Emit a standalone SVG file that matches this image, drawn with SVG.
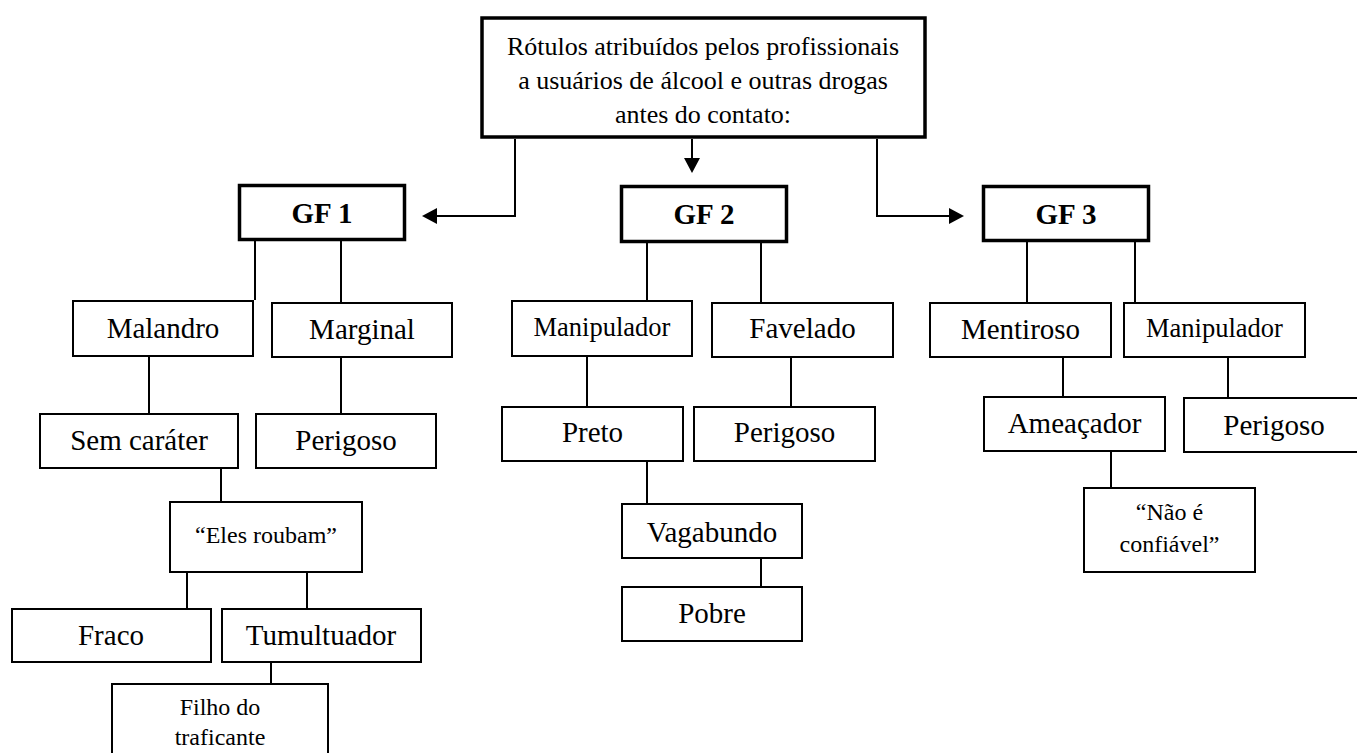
<svg xmlns="http://www.w3.org/2000/svg" width="1357" height="753" viewBox="0 0 1357 753">
<style>
  .bg { fill: #ffffff; }
  .box { fill: #ffffff; stroke: #000; stroke-width: 2; }
  .bold { fill: #ffffff; stroke: #000; stroke-width: 3.5; }
  .t { font-family: "Liberation Serif", "Times New Roman", serif; font-size: 29px; fill: #000; text-anchor: middle; }
  .ts { font-size: 26.5px; }
  .tq { font-size: 24px; }
  .tt { font-size: 26px; }
  .tb { font-weight: bold; }
  .c { fill: none; stroke: #000; stroke-width: 2; }
</style>
<defs>
  <marker id="ah" viewBox="0 0 15 16" refX="12" refY="8" markerWidth="15" markerHeight="16" orient="auto" markerUnits="userSpaceOnUse">
    <path d="M0,0 L15,8 L0,16 z" fill="#000"/>
  </marker>
</defs>
<rect class="bg" x="0" y="0" width="1357" height="753"/>

<g id="connectors">
  <path class="c" d="M515,139 V216 H425" marker-end="url(#ah)"/>
  <path class="c" d="M692,139 V170" marker-end="url(#ah)"/>
  <path class="c" d="M877,139 V216 H961" marker-end="url(#ah)"/>
  <path class="c" d="M255,241 V300 M341,241 V302 M149,357 V413 M341,358 V413 M221,469 V501 M187,573 V608 M307,573 V608 M271,663 V683"/>
  <path class="c" d="M647,243 V300 M761,243 V302 M587,357 V406 M791,358 V406 M647,462 V503 M761,559 V586"/>
  <path class="c" d="M1027,242 V302 M1135,242 V302 M1063,358 V396 M1228,358 V397 M1111,452 V487"/>
</g>

<g id="root">
  <rect class="bold" x="482" y="18" width="443" height="119"/>
  <text class="t tt" x="703" y="55">Rótulos atribuídos pelos profissionais</text>
  <text class="t tt" x="703" y="89">a usuários de álcool e outras drogas</text>
  <text class="t tt" x="703" y="123">antes do contato:</text>
</g>

<g id="gf1">
  <rect class="bold" x="239.5" y="185.5" width="165" height="54"/>
  <text class="t tb" x="322" y="223">GF 1</text>
</g>
<g id="gf2">
  <rect class="bold" x="621.5" y="186.5" width="165" height="55"/>
  <text class="t tb" x="704" y="224">GF 2</text>
</g>
<g id="gf3">
  <rect class="bold" x="983.5" y="186.5" width="165" height="54"/>
  <text class="t tb" x="1066" y="224">GF 3</text>
</g>

<g id="malandro">
  <rect class="box" x="73" y="301" width="180" height="55"/>
  <text class="t" x="163" y="338">Malandro</text>
</g>
<g id="marginal">
  <rect class="box" x="272" y="303" width="180" height="54"/>
  <text class="t" x="362" y="339">Marginal</text>
</g>
<g id="sem-carater">
  <rect class="box" x="40" y="414" width="198" height="54"/>
  <text class="t" x="139" y="450">Sem caráter</text>
</g>
<g id="perigoso1">
  <rect class="box" x="256" y="414" width="180" height="54"/>
  <text class="t" x="346" y="450">Perigoso</text>
</g>
<g id="eles-roubam">
  <rect class="box" x="170" y="502" width="192" height="70"/>
  <text class="t tq" x="266" y="543">“Eles roubam”</text>
</g>
<g id="fraco">
  <rect class="box" x="12" y="609" width="199" height="53"/>
  <text class="t" x="111" y="645">Fraco</text>
</g>
<g id="tumultuador">
  <rect class="box" x="222" y="609" width="199" height="53"/>
  <text class="t" x="321" y="645">Tumultuador</text>
</g>
<g id="filho">
  <rect class="box" x="112" y="684" width="216" height="80"/>
  <text class="t tq" x="220" y="715">Filho do</text>
  <text class="t tq" x="220" y="745">traficante</text>
</g>

<g id="manipulador2">
  <rect class="box" x="512" y="301" width="180" height="55"/>
  <text class="t ts" x="602" y="336">Manipulador</text>
</g>
<g id="favelado">
  <rect class="box" x="712" y="303" width="181" height="54"/>
  <text class="t" x="802.5" y="338">Favelado</text>
</g>
<g id="preto">
  <rect class="box" x="502" y="407" width="181" height="54"/>
  <text class="t" x="592.5" y="442">Preto</text>
</g>
<g id="perigoso2">
  <rect class="box" x="694" y="407" width="181" height="54"/>
  <text class="t" x="784.5" y="442">Perigoso</text>
</g>
<g id="vagabundo">
  <rect class="box" x="622" y="504" width="180" height="54"/>
  <text class="t" x="712" y="542">Vagabundo</text>
</g>
<g id="pobre">
  <rect class="box" x="622" y="587" width="180" height="54"/>
  <text class="t" x="712" y="623">Pobre</text>
</g>

<g id="mentiroso">
  <rect class="box" x="930" y="303" width="181" height="54"/>
  <text class="t" x="1020.5" y="339">Mentiroso</text>
</g>
<g id="manipulador3">
  <rect class="box" x="1124" y="303" width="181" height="54"/>
  <text class="t ts" x="1214.5" y="337">Manipulador</text>
</g>
<g id="ameacador">
  <rect class="box" x="984" y="397" width="181" height="54"/>
  <text class="t" x="1074.5" y="433">Ameaçador</text>
</g>
<g id="perigoso3">
  <rect class="box" x="1184" y="398" width="181" height="54"/>
  <text class="t" x="1274" y="435">Perigoso</text>
</g>
<g id="nao-confiavel">
  <rect class="box" x="1084" y="488" width="171" height="84"/>
  <text class="t tq" x="1169.5" y="520">“Não é</text>
  <text class="t tq" x="1169.5" y="552">confiável”</text>
</g>
</svg>
